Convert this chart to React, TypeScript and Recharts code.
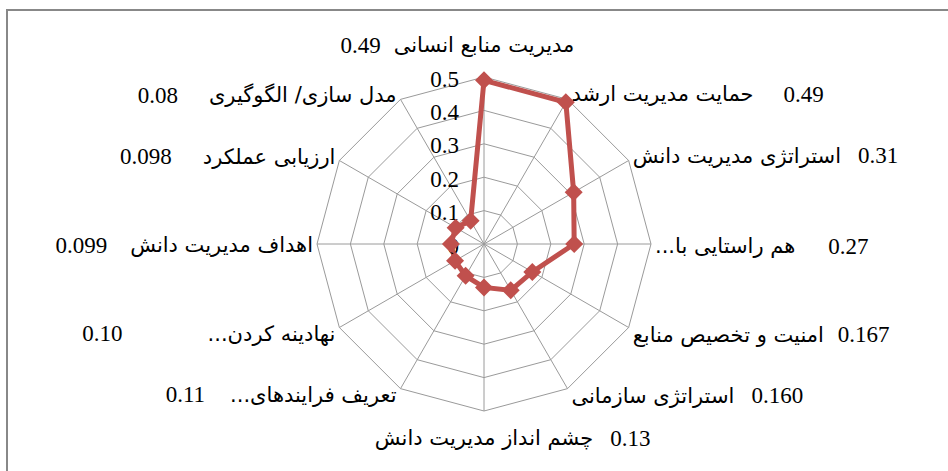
import React, { useLayoutEffect, useRef, useState } from "react";
import {
  PolarAngleAxis,
  PolarGrid,
  PolarRadiusAxis,
  Radar,
  RadarChart,
} from "recharts";

const categories = [
  "مدیریت منابع انسانی",
  "حمایت مدیریت ارشد",
  "استراتژی مدیریت دانش",
  "هم راستایی با...\u200F",
  "امنیت و تخصیص منابع",
  "استراتژی سازمانی",
  "چشم انداز مدیریت دانش",
  "تعریف فرایندهای...\u200F",
  "نهادینه کردن...\u200F",
  "اهداف مدیریت دانش",
  "ارزیابی عملکرد",
  "مدل سازی/ الگوگیری",
];

const weights = [0.49, 0.49, 0.31, 0.27, 0.167, 0.16, 0.13, 0.11, 0.1, 0.099, 0.098, 0.08];

const weightLabels = [
  "0.49", "0.49", "0.31", "0.27", "0.167", "0.160",
  "0.13", "0.11", "0.10", "0.099", "0.098", "0.08",
];

const radiusTicks = [0, 0.1, 0.2, 0.3, 0.4, 0.5];

// space between a category name and its value text
const labelGaps = [13, 30, 17, 33, 14, 17, 17, 25, 85, 23, 31, 31];

const data = categories.map((name, i) => ({ name, weight: weights[i] }));

const CX = 484;
const CY = 244;
const R = 167;
const RED = "#C0504D";
const NAME_FONT = "'DejaVu Sans', sans-serif";
const NUM_FONT = "'Liberation Serif', 'Times New Roman', serif";

function AngleTick(props: any) {
  const { payload, index } = props;
  const ref = useRef<SVGTextElement>(null);
  const [w, setW] = useState(0);
  useLayoutEffect(() => {
    if (ref.current) setW(ref.current.getComputedTextLength());
  }, []);

  const angle = (payload.coordinate * Math.PI) / 180;
  const ex = CX + Math.cos(angle) * R;
  const ey = CY - Math.sin(angle) * R;
  const horiz = Math.cos(angle);
  const vert = Math.sin(angle);
  const gap = labelGaps[index];

  let nx = ex;
  let ny = ey;
  let anchor: "start" | "end" | "middle" = "middle";
  let vx = 0;
  let vAnchor: "start" | "end" = "start";

  if (Math.abs(horiz) < 0.01) {
    ny = vert > 0 ? ey - 32 : ey + 27;
    if (vert > 0) {
      vx = nx - w / 2 - gap;
      vAnchor = "end";
    } else {
      vx = nx + w / 2 + gap;
      vAnchor = "start";
    }
  } else if (horiz > 0) {
    anchor = "start";
    nx = ex + 4;
    ny = ey + (vert > 0.3 ? -5 : vert < -0.3 ? 7 : 2);
    vx = nx + w + gap;
    vAnchor = "start";
  } else {
    anchor = "end";
    nx = ex - 4;
    ny = ey + (vert > 0.3 ? -4 : vert < -0.3 ? 6 : 1);
    vx = nx - w - gap;
    vAnchor = "end";
  }

  return (
    <g>
      <text
        ref={ref}
        x={nx}
        y={ny}
        textAnchor={anchor}
        dominantBaseline="central"
        fontFamily={NAME_FONT}
        fontSize={21}
        fill="#000"
      >
        {payload.value}
      </text>
      {w > 0 && (
        <text
          x={vx}
          y={ny}
          textAnchor={vAnchor}
          dominantBaseline="central"
          fontFamily={NUM_FONT}
          fontSize={23}
          fill="#000"
        >
          {weightLabels[index]}
        </text>
      )}
    </g>
  );
}

function RadiusTick(props: any) {
  const { x, y, payload } = props;
  return (
    <text
      x={x - 25}
      y={y + 2}
      textAnchor="end"
      dominantBaseline="central"
      fontFamily={NUM_FONT}
      fontSize={23}
      fill="#000"
    >
      {parseFloat(Number(payload.value).toFixed(1))}
    </text>
  );
}

function Diamond(props: any) {
  const { cx, cy, index } = props;
  const s = 9;
  return (
    <path
      key={`d-${index}`}
      d={`M${cx},${cy - s} L${cx + s},${cy} L${cx},${cy + s} L${cx - s},${cy} Z`}
      fill={RED}
    />
  );
}

export default function App() {
  return (
    <div
      style={{
        position: "absolute",
        left: 0,
        top: 0,
        width: 948,
        height: 471,
        background: "#fff",
        overflow: "hidden",
      }}
    >
      <div
        style={{
          position: "absolute",
          left: 6,
          top: 9,
          width: 960,
          height: 480,
          borderTop: "2px solid #888",
          borderLeft: "2px solid #888",
        }}
      />
      <div style={{ position: "absolute", left: 0, top: 0 }}>
        <RadarChart
          width={948}
          height={471}
          data={data}
          cx={CX}
          cy={CY}
          outerRadius={R}
          margin={{ top: 0, right: 0, bottom: 0, left: 0 }}
        >
          <PolarGrid gridType="polygon" stroke="#9a9a9a" strokeWidth={1} />
          <PolarAngleAxis
            dataKey="name"
            tick={(p: any) => <AngleTick {...p} />}
            tickLine={false}
            axisLine={false}
          />
          <PolarRadiusAxis
            type="number"
            angle={90}
            domain={[0, 0.5]}
            ticks={radiusTicks}
            tickCount={6}
            allowDecimals
            allowDataOverflow
            axisLine={false}
            tickLine={false}
            tick={(p: any) => <RadiusTick {...p} />}
          />
          <Radar
            dataKey="weight"
            stroke={RED}
            strokeWidth={5}
            fill="none"
            fillOpacity={0}
            dot={(p: any) => <Diamond {...p} />}
            isAnimationActive={false}
          />
        </RadarChart>
      </div>
    </div>
  );
}
